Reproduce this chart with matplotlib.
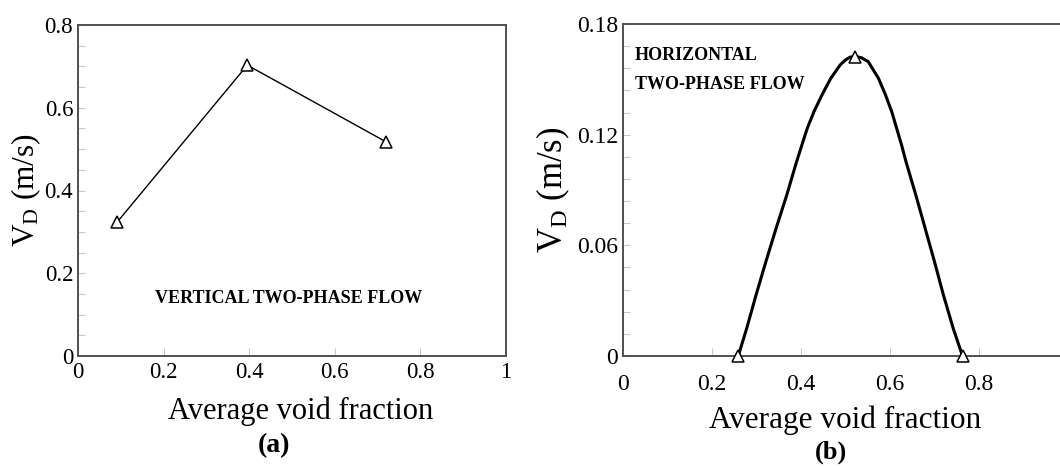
import matplotlib
matplotlib.use("Agg")
import matplotlib.pyplot as plt
from matplotlib.ticker import MultipleLocator

plt.rcParams['font.family'] = ['Liberation Serif', 'DejaVu Serif']
plt.rcParams['mathtext.fontset'] = 'custom'
plt.rcParams['mathtext.rm'] = 'Liberation Serif'
plt.rcParams['mathtext.it'] = 'Liberation Serif:italic'
plt.rcParams['mathtext.bf'] = 'Liberation Serif:bold'

# ---- data: panel (a) vertical flow ----
vert_void = [0.091, 0.3956, 0.719]
vert_vd = [0.323, 0.703, 0.518]

# ---- data: panel (b) horizontal flow ----
horiz_void = [0.259, 0.521, 0.763]
horiz_vd = [0.0, 0.162, 0.0]
# smooth curve drawn through the horizontal points
curve_void = [0.259, 0.278, 0.299, 0.321, 0.344, 0.368, 0.390, 0.402, 0.414,
              0.429, 0.447, 0.467, 0.488, 0.500, 0.510, 0.521, 0.536, 0.551,
              0.574, 0.590, 0.604, 0.615, 0.626, 0.636, 0.658, 0.679, 0.700,
              0.720, 0.742, 0.763]
curve_vd = [0.0, 0.0150, 0.0331, 0.0511, 0.0692, 0.0873, 0.1053, 0.1144, 0.1234,
            0.1324, 0.1415, 0.1506, 0.1578, 0.1605, 0.1620, 0.1625, 0.1617, 0.1596,
            0.1506, 0.1415, 0.1324, 0.1234, 0.1144, 0.1053, 0.0873, 0.0692, 0.0511,
            0.0331, 0.0150, 0.0]

xticks_a = [0, 0.2, 0.4, 0.6, 0.8, 1.0]
xticklabels_a = ['0', '0.2', '0.4', '0.6', '0.8', '1']
yticks_a = [0, 0.2, 0.4, 0.6, 0.8]
yticklabels_a = ['0', '0.2', '0.4', '0.6', '0.8']
xticks_b = [0, 0.2, 0.4, 0.6, 0.8]
xticklabels_b = ['0', '0.2', '0.4', '0.6', '0.8']
yticks_b = [0, 0.06, 0.12, 0.18]
yticklabels_b = ['0', '0.06', '0.12', '0.18']

fig = plt.figure(figsize=(10.6, 4.67), dpi=100)
ax1 = fig.add_axes([78/1060, 1-356/467, 428/1060, 331/467])
ax2 = fig.add_axes([623/1060, 1-356/467, 445/1060, 332/467])

spine_col = '#505050'
tick_col = '#c8c8c8'

for ax in (ax1, ax2):
    for s in ax.spines.values():
        s.set_color(spine_col)
        s.set_linewidth(1.4)
    ax.tick_params(axis='both', which='both', direction='in', color=tick_col,
                   top=False, right=False, width=0.8)
    ax.tick_params(axis='x', which='major', length=6)
    ax.tick_params(axis='y', which='major', length=5, pad=3.5)
    ax.tick_params(axis='y', which='minor', length=5)
    ax.tick_params(axis='x', which='minor', length=0)

# panel (a)
ax1.plot(vert_void, vert_vd, color='black', lw=1.0, marker='^', markersize=8,
         markerfacecolor='white', markeredgecolor='black', markeredgewidth=1.1,
         clip_on=False, zorder=3)
ax1.set_xlim(0, 1)
ax1.set_ylim(0, 0.8)
ax1.set_xticks(xticks_a)
ax1.set_xticklabels(xticklabels_a, fontsize=16.5)
ax1.set_yticks(yticks_a)
ax1.set_yticklabels(yticklabels_a, fontsize=16.5)
ax1.yaxis.set_minor_locator(MultipleLocator(0.05))
ax1.tick_params(axis='x', which='major', pad=4.5)
ax1.set_xlabel('Average void fraction', fontsize=22, va='baseline')
ax1.xaxis.set_label_coords(0.521, (356-419)/331)
ax1.set_ylabel(r'V$_\mathrm{D}$ (m/s)', fontsize=22.5, va='center')
ax1.yaxis.set_label_coords((26-78)/428, 0.5)
ax1.text(0.18, 0.138, 'VERTICAL TWO-PHASE FLOW', fontsize=13, fontweight='bold',
         va='center', ha='left')
fig.text(273.7/1060, 1-446/467, '(a)', fontsize=20, fontweight='bold',
         ha='center', va='center')

# panel (b)
ax2.plot(curve_void, curve_vd, color='black', lw=2.2, solid_joinstyle='round',
         solid_capstyle='round', zorder=2, clip_on=False)
ax2.plot(horiz_void, horiz_vd, linestyle='none', marker='^', markersize=8,
         markerfacecolor='white', markeredgecolor='black', markeredgewidth=1.1,
         clip_on=False, zorder=3)
ax2.set_xlim(0, 1)
ax2.set_ylim(0, 0.18)
ax2.set_xticks(xticks_b)
ax2.set_xticklabels(xticklabels_b, fontsize=17)
ax2.set_yticks(yticks_b)
ax2.set_yticklabels(yticklabels_b, fontsize=17)
ax2.yaxis.set_minor_locator(MultipleLocator(0.012))
ax2.tick_params(axis='x', which='major', pad=13)
ax2.set_xlabel('Average void fraction', fontsize=22.5, va='baseline')
ax2.xaxis.set_label_coords(0.5, (356-428)/332)
ax2.set_ylabel(r'V$_\mathrm{D}$ (m/s)', fontsize=25, va='center')
ax2.yaxis.set_label_coords((553-623)/445, 0.5)
ax2.text(0.027, 0.1627, 'HORIZONTAL', fontsize=13, fontweight='bold',
         va='center', ha='left')
ax2.text(0.027, 0.147, 'TWO-PHASE FLOW', fontsize=13, fontweight='bold',
         va='center', ha='left')
fig.text(830.5/1060, 1-452/467, '(b)', fontsize=19, fontweight='bold',
         ha='center', va='center')

fig.savefig('out.png', dpi=100)
